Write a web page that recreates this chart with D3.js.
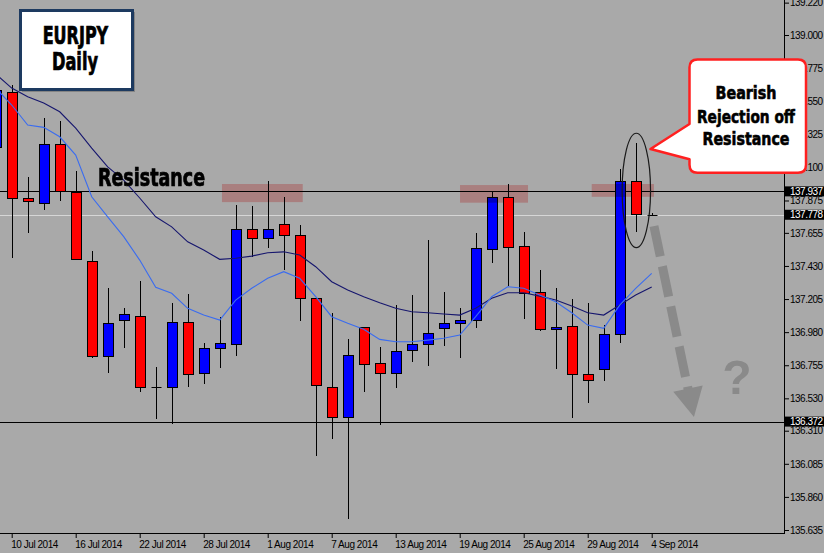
<!DOCTYPE html>
<html><head><meta charset="utf-8">
<script src="https://cdn.jsdelivr.net/npm/d3@7"></script>
<style>
html,body{margin:0;padding:0;background:#a9a9a9;}
svg{display:block;}
</style></head><body>
<svg id="chart" width="824" height="553"></svg>
<script>
// ---------------- DATA ----------------
const firstBarIndex = -1; // first (partly hidden) bar sits one slot left of "10 Jul 2014"
const opens  = [138.238,138.614,137.890,137.856,138.257,137.934,137.465,136.820,137.062,137.092,136.605,136.605,137.051,136.700,136.870,136.897,137.683,137.618,137.713,137.640,137.210,136.609,136.401,137.013,136.768,136.700,136.858,136.897,137.006,137.040,137.060,137.543,137.896,137.567,137.251,136.999,137.019,136.693,136.727,136.965,138.005,137.778];
const highs  = [138.639,138.660,138.032,138.433,138.415,138.075,137.531,137.278,137.142,137.327,136.745,137.176,137.239,136.904,137.085,137.844,137.837,138.007,137.900,137.708,137.212,137.112,136.933,137.016,136.877,137.162,137.232,137.606,137.251,137.142,137.652,137.939,137.987,137.658,137.402,137.278,137.203,137.180,137.028,138.087,138.263,137.790];
const lows   = [138.218,137.484,137.656,137.810,137.873,137.475,136.802,136.700,136.874,136.571,136.389,136.355,136.609,136.625,136.738,136.820,137.493,137.554,137.402,137.058,136.140,136.251,135.707,136.575,136.349,136.598,136.779,136.752,136.888,136.802,137.006,137.452,137.295,137.069,136.990,136.731,136.398,136.500,136.650,136.908,137.662,137.768];
const closes = [138.626,137.890,137.871,138.257,137.939,137.475,136.820,137.040,137.101,136.605,136.605,137.051,136.695,136.870,136.904,137.679,137.618,137.679,137.640,137.210,136.620,136.401,136.822,136.761,136.700,136.852,136.897,136.972,137.040,137.060,137.550,137.896,137.557,137.244,136.999,137.013,136.693,136.652,136.965,138.005,137.781,137.778];
const maSlow = [138.735,138.639,138.580,138.537,138.478,138.367,138.231,138.104,138.014,137.892,137.764,137.696,137.594,137.538,137.475,137.482,137.497,137.520,137.526,137.504,137.425,137.323,137.266,137.221,137.180,137.142,137.119,137.112,137.103,137.096,137.142,137.210,137.248,137.248,137.225,137.198,137.157,137.112,137.096,137.164,137.232,137.287];
const maFast = [138.639,138.524,138.388,138.372,138.308,138.184,137.900,137.764,137.629,137.470,137.285,137.244,137.142,137.096,137.062,137.198,137.278,137.346,137.391,137.346,137.221,137.085,137.040,136.999,136.931,136.915,136.915,136.926,136.938,136.960,137.085,137.221,137.289,137.278,137.232,137.187,137.112,137.028,137.006,137.164,137.278,137.380];
const dateLabels = ["10 Jul 2014","16 Jul 2014","22 Jul 2014","28 Jul 2014","1 Aug 2014","7 Aug 2014","13 Aug 2014","19 Aug 2014","25 Aug 2014","29 Aug 2014","4 Sep 2014"];
const dateTickBars = [0,4,8,12,16,20,24,28,32,36,40];
const priceTicks = [139.220,139.000,138.775,138.550,138.325,138.100,137.875,137.655,137.430,137.205,136.980,136.755,136.530,136.310,136.085,135.860,135.635];
const levelLines = [137.937,136.372];
const bidPrice = 137.778;
const markedPrices = [137.937,137.778,136.372];
// resistance zones: [fromBar, toBar, topPrice, bottomPrice]
const zoneFrom = [13.14,28.02,36.25];
const zoneTo   = [18.19,32.27,40.14];
const zoneTop  = [137.987,137.980,137.987];
const zoneBot  = [137.864,137.860,137.900];

// ---------------- LAYOUT ----------------
const W=824,H=553,plotR=784,plotB=533;
const svg=d3.select("#chart");
const x=d3.scaleLinear().domain([0,40]).range([11.7,651.7]);
const y=d3.scaleLinear().domain([135.635,139.000]).range([530,35]);
const bars=opens.map((o,i)=>({i:i+firstBarIndex,o,h:highs[i],l:lows[i],c:closes[i]}));
const snap=v=>Math.round(v)+0.5;
const axisFont="'Liberation Sans',Arial,sans-serif";

svg.append("rect").attr("width",W).attr("height",H).attr("fill","#a9a9a9");
svg.append("defs").append("clipPath").attr("id","plot").append("rect").attr("width",plotR).attr("height",plotB);
const plot=svg.append("g").attr("clip-path","url(#plot)");
plot.append("rect").attr("width",plotR).attr("height",plotB).attr("fill","#a9a9a9");

// level lines
plot.selectAll("line.lvl").data(levelLines).join("line").attr("class","lvl")
  .attr("x1",0).attr("x2",plotR).attr("y1",d=>snap(y(d))).attr("y2",d=>snap(y(d)))
  .attr("stroke","#000").attr("stroke-width",1);
plot.append("line").attr("x1",0).attr("x2",plotR).attr("y1",snap(y(bidPrice))).attr("y2",snap(y(bidPrice)))
  .attr("stroke","#d6d6d6").attr("stroke-width",1);

// candles
const cg=plot.append("g");
bars.forEach(b=>{
  const cx=snap(x(b.i));
  cg.append("line").attr("x1",cx).attr("x2",cx).attr("y1",Math.round(y(b.h))).attr("y2",Math.round(y(b.l)))
    .attr("stroke","#000").attr("stroke-width",1);
  if(b.o===b.c){
    cg.append("line").attr("x1",cx-5).attr("x2",cx+5).attr("y1",snap(y(b.o))).attr("y2",snap(y(b.o)))
      .attr("stroke","#000").attr("stroke-width",1);
  } else {
    const top=snap(y(Math.max(b.o,b.c))), bot=snap(y(Math.min(b.o,b.c)));
    cg.append("rect").attr("x",cx-5).attr("y",top).attr("width",10).attr("height",Math.max(1,bot-top))
      .attr("fill",b.c>b.o?"#0000ff":"#ff0000").attr("stroke","#000").attr("stroke-width",1);
  }
});

// moving averages
const lineGen=d3.line().x((d,i)=>x(i+firstBarIndex)).y(d=>y(d));
plot.append("path").attr("d",lineGen(maSlow)).attr("fill","none").attr("stroke","#16166e").attr("stroke-width",1.1);
plot.append("path").attr("d",lineGen(maFast)).attr("fill","none").attr("stroke","#3a6cf0").attr("stroke-width",1.1);

// resistance zones (multiplied onto the chart)
plot.selectAll("rect.zone").data(zoneFrom).join("rect").attr("class","zone")
  .attr("x",(d,i)=>x(d)).attr("width",(d,i)=>x(zoneTo[i])-x(d))
  .attr("y",(d,i)=>y(zoneTop[i])).attr("height",(d,i)=>y(zoneBot[i])-y(zoneTop[i]))
  .attr("fill","rgb(255,192,192)").style("mix-blend-mode","multiply");

// ellipse around rejection candle
plot.append("ellipse").attr("cx",x(39.04)).attr("cy",(y(138.332)+y(137.554))/2)
  .attr("rx",14.2).attr("ry",(y(137.554)-y(138.332))/2)
  .attr("fill","none").attr("stroke","#1a1a1a").attr("stroke-width",1.2);

// dashed arrow
const a0=[x(40.14),y(137.701)], a1=[x(42.64),y(136.403)];
const dx=a1[0]-a0[0], dy=a1[1]-a0[1], len=Math.hypot(dx,dy), ux=dx/len, uy=dy/len;
const headL=29, headW=15;
const base=[a1[0]-ux*headL,a1[1]-uy*headL];
plot.append("line").attr("x1",a0[0]).attr("y1",a0[1]).attr("x2",base[0]+ux*2).attr("y2",base[1]+uy*2)
  .attr("stroke","#8a8a8a").attr("stroke-width",9).attr("stroke-dasharray","31,10");
plot.append("path").attr("d",`M${a1[0]},${a1[1]}L${base[0]-uy*headW},${base[1]+ux*headW}L${base[0]+uy*headW},${base[1]-ux*headW}Z`)
  .attr("fill","#8a8a8a");
plot.append("text").attr("x",x(45.33)).attr("y",y(136.559)).attr("text-anchor","middle")
  .attr("font-family",axisFont).attr("font-weight","bold").attr("font-size",48)
  .attr("fill","#8a8a8a").text("?");

// Resistance label
const boldFont="'Liberation Sans Narrow','DejaVu Sans Condensed','Roboto Condensed',sans-serif";
function heavy(sel){return sel.attr("font-family",boldFont).attr("font-weight","bold").attr("fill","#000")
  .attr("stroke","#000").attr("stroke-width",0.7).attr("lengthAdjust","spacingAndGlyphs");}
heavy(plot.append("text").attr("x",98).attr("y",185.5).attr("font-size",24).attr("textLength",107)).text("Resistance");

// axes
svg.append("line").attr("x1",plotR+0.5).attr("x2",plotR+0.5).attr("y1",0).attr("y2",plotB+1).attr("stroke","#000");
svg.append("line").attr("x1",0).attr("x2",plotR+1).attr("y1",plotB+0.5).attr("y2",plotB+0.5).attr("stroke","#000");
const yAxis=d3.axisRight(y).tickValues(priceTicks).tickFormat(d3.format(".3f")).tickSize(4).tickSizeOuter(0);
const gy=svg.append("g").attr("transform",`translate(${plotR+1},0)`).call(yAxis);
gy.select(".domain").remove();
gy.selectAll("text").attr("font-family",axisFont).attr("font-size",10).attr("fill","#000").attr("x",5).attr("letter-spacing","-0.5px");
gy.selectAll("line").attr("stroke","#000");
const xAxis=d3.axisBottom(x).tickValues(dateTickBars).tickFormat((d,i)=>dateLabels[i]).tickSize(4).tickSizeOuter(0);
const gx=svg.append("g").attr("transform",`translate(0,${plotB+1})`).call(xAxis);
gx.select(".domain").remove();
gx.selectAll("text").attr("font-family",axisFont).attr("font-size",10).attr("fill","#000")
  .attr("text-anchor","start").attr("x",-1).attr("letter-spacing","-0.45px");
gx.selectAll("line").attr("stroke","#000");

// marked price boxes
const mp=svg.append("g");
markedPrices.forEach(p=>{
  mp.append("rect").attr("x",plotR+1).attr("y",y(p)-5).attr("width",W-plotR-1).attr("height",10).attr("fill","#000");
  mp.append("text").attr("x",plotR+6).attr("y",y(p)).attr("dy","0.34em").attr("letter-spacing","-0.5px")
    .attr("font-family",axisFont).attr("font-size",10).attr("fill","#fff").text(d3.format(".3f")(p));
});

// title box
svg.append("rect").attr("x",22).attr("y",12).attr("width",113).attr("height",80).attr("fill","rgba(0,0,0,0.22)");
svg.append("rect").attr("x",20.5).attr("y",10.5).attr("width",112).attr("height",79)
  .attr("fill","#fff").attr("stroke","#1d3a60").attr("stroke-width",3);
heavy(svg.append("text").attr("x",42.7).attr("y",43.5).attr("font-size",24).attr("textLength",65.5)).text("EURJPY");
heavy(svg.append("text").attr("x",52).attr("y",69.5).attr("font-size",24).attr("textLength",46)).text("Daily");

// callout
const bx0=689.5,bx1=806,by0=59.5,by1=172.8,r=8;
const callout=`M${bx0+r},${by0}H${bx1-r}Q${bx1},${by0} ${bx1},${by0+r}V${by1-r}Q${bx1},${by1} ${bx1-r},${by1}H${bx0+r}Q${bx0},${by1} ${bx0},${by1-r}V159.3L650.5,149L${bx0},124V${by0+r}Q${bx0},${by0} ${bx0+r},${by0}Z`;
svg.append("path").attr("d",callout).attr("fill","#fff").attr("stroke","#ff2020").attr("stroke-width",2.5).attr("stroke-linejoin","round");
const cl=[["Bearish",99.3,61],["Rejection off",122.7,98],["Resistance",145,87]];
cl.forEach(([t,yy,w])=>{
  heavy(svg.append("text").attr("x",746-w/2).attr("y",yy).attr("font-size",18.5).attr("textLength",w)).attr("stroke-width",0.6).text(t);
});
</script>
</body></html>
